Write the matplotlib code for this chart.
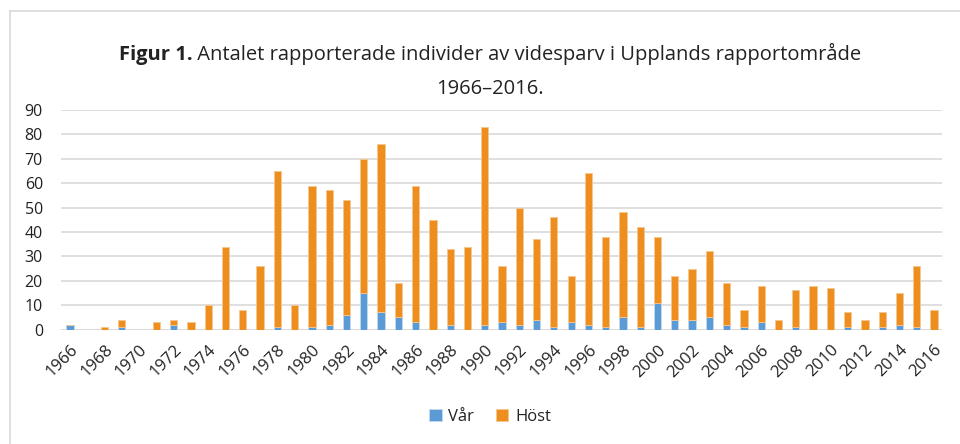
import numpy as np
import matplotlib
matplotlib.use("Agg")
from matplotlib import pyplot as plt

years = list(range(1966, 2017))
var = [2, 0, 0, 1, 0, 0, 2, 0, 0, 0,
       0, 0, 1, 0, 1, 2, 6, 15, 7, 5,
       3, 0, 2, 0, 2, 3, 2, 4, 1, 3,
       2, 1, 5, 1, 11, 4, 4, 5, 2, 1,
       3, 0, 1, 0, 0, 1, 0, 1, 2, 1,
       0]
host = [0, 0, 1, 3, 0, 3, 2, 3, 10, 34,
        8, 26, 64, 10, 58, 55, 47, 55, 69, 14,
        56, 45, 31, 34, 81, 23, 48, 33, 45, 19,
        62, 37, 43, 41, 27, 18, 21, 27, 17, 7,
        15, 4, 15, 18, 17, 6, 4, 6, 13, 25,
        8]
tick_labels = [str(y) if y % 2 == 0 else "" for y in years]

blue = "#5B9BD5"
orange = "#ED8E1F"
txt = "#222222"

plt.rcParams['font.family'] = ["Open Sans", "DejaVu Sans"]

fig = plt.figure(figsize=(9.6, 4.44), dpi=100)
ax = fig.add_axes([61/960, 1 - 329.5/444, (942-61)/960, (329.5-110)/444])

x = np.arange(len(years))
width = 0.42
ax.bar(x, var, width, color=blue, edgecolor="#C5DAF0", linewidth=0.6, label="Vår", zorder=3)
ax.bar(x, host, width, bottom=var, color=orange, edgecolor="#F6C690", linewidth=0.6, label="Höst", zorder=3)

ax.set_xlim(-0.52, len(years) - 0.54)
ax.set_ylim(0, 90)
ax.set_yticks(range(0, 91, 10))
ax.tick_params(axis='y', length=0, labelsize=11.5, colors=txt, pad=13)
ax.set_xticks(x)
ax.set_xticklabels(tick_labels, rotation=45, ha='right', rotation_mode='anchor', fontsize=12, color=txt)
ax.tick_params(axis='x', length=0, pad=9)
ax.grid(axis='y', color="#D9D9D9", linewidth=1.2, zorder=0)
for s in ax.spines.values():
    s.set_visible(False)
ax.axhline(0, color="#D9D9D9", linewidth=1.2, zorder=2)

leg = fig.legend(loc='center', bbox_to_anchor=(490/960, 1 - 417/444), ncol=2, frameon=False,
                 fontsize=12, handlelength=0.75, handleheight=0.75, handletextpad=0.4, columnspacing=1.3)
for t in leg.get_texts():
    t.set_color(txt)

# outer frame (left and top edges visible)
fig.add_artist(plt.Line2D([10/960, 10/960], [0, 1 - 11/444], color="#D9D9D9", lw=1.2))
fig.add_artist(plt.Line2D([10/960, 1], [1 - 11/444, 1 - 11/444], color="#D9D9D9", lw=1.2))

# title with bold prefix
tsize = 14.5
ty1 = 1 - 60/444
t1 = fig.text(0, ty1, "Figur 1.", fontsize=tsize, fontweight='bold', color=txt, va='baseline')
t2 = fig.text(0, ty1, " Antalet rapporterade individer av videsparv i Upplands rapportområde",
              fontsize=tsize, color=txt, va='baseline')
fig.canvas.draw()
r = fig.canvas.get_renderer()
w1 = t1.get_window_extent(r).width / 960
w2 = t2.get_window_extent(r).width / 960
start = 490/960 - (w1 + w2) / 2
t1.set_x(start)
t2.set_x(start + w1)
fig.text(490/960, 1 - 94/444, "1966–2016.", fontsize=tsize, color=txt,
         ha='center', va='baseline')

fig.savefig("out.png", dpi=100)
